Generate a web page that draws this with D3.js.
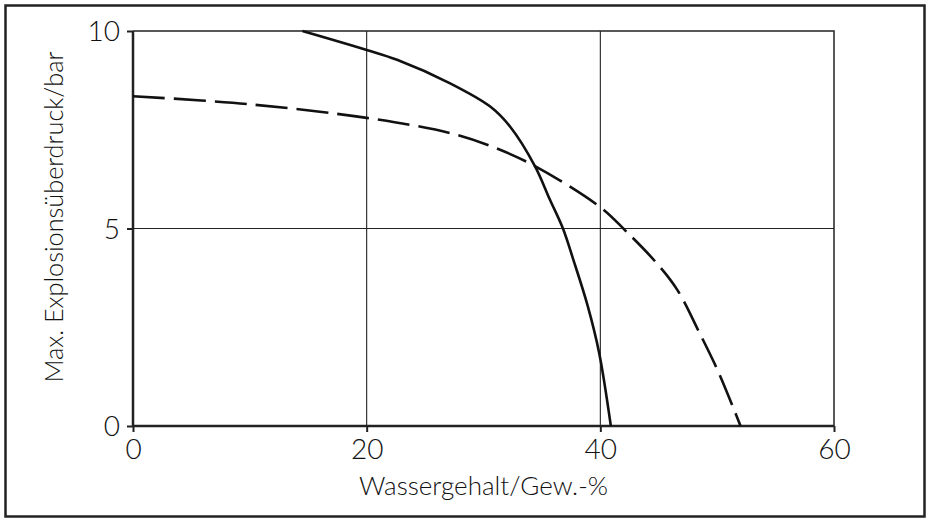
<!DOCTYPE html>
<html><head><meta charset="utf-8">
<script src="https://cdn.jsdelivr.net/npm/d3@7"></script>
<style>body{margin:0;background:#fff}svg{display:block}text{font-family:Lato,"Open Sans",sans-serif;fill:#111}</style>
</head><body>
<svg id="c" width="928" height="519"></svg>
<script>
const xTicks = [0, 20, 40, 60];
const yTicks = [0, 5, 10];
const solidX = [14.5, 20, 22.6, 27.1, 30.6, 32.3, 34.4, 35.7, 36.8, 37.7, 38.9, 39.9, 40.9];
const solidY = [10, 9.52, 9.27, 8.68, 8.08, 7.57, 6.58, 5.72, 5.0, 4.2, 3.06, 1.85, 0];
const dashX = [0, 9.8, 20, 27.1, 30.6, 34.4, 40, 42.1, 44.8, 46.6, 48.5, 50.1, 52];
const dashY = [8.35, 8.15, 7.8, 7.42, 7.09, 6.58, 5.54, 4.96, 4.13, 3.44, 2.35, 1.37, 0];
const xTitle = "Wassergehalt/Gew.-%";
const yTitle = "Max. Explosionsüberdruck/bar";

const svg = d3.select("#c");
const L = 133, R = 834, T = 31, B = 426;
const x = d3.scaleLinear().domain([0, 60]).range([L, R]);
const y = d3.scaleLinear().domain([0, 10]).range([B, T]);

svg.append("rect").attr("x", 5.5).attr("y", 5.5).attr("width", 919).attr("height", 511)
  .attr("fill", "none").attr("stroke", "#222").attr("stroke-width", 2.5);

// grid
svg.append("g").selectAll("line").data(xTicks.filter(d => d > 0 && d < 60)).join("line")
  .attr("x1", d => x(d)).attr("x2", d => x(d)).attr("y1", T).attr("y2", B)
  .attr("stroke", "#222").attr("stroke-width", 1.1);
svg.append("g").selectAll("line").data(yTicks.filter(d => d > 0 && d < 10)).join("line")
  .attr("y1", d => y(d)).attr("y2", d => y(d)).attr("x1", L).attr("x2", R)
  .attr("stroke", "#222").attr("stroke-width", 1.1);
// top & right frame
svg.append("path").attr("d", `M${L},${T}H${R}V${B}`).attr("fill", "none")
  .attr("stroke", "#222").attr("stroke-width", 1.5);

// axes
const xAxis = d3.axisBottom(x).tickValues(xTicks).tickSize(6).tickPadding(7).tickFormat(d3.format("d"));
const gx = svg.append("g").attr("transform", `translate(0,${B})`).call(xAxis);
const yAxis = d3.axisLeft(y).tickValues(yTicks).tickSize(6).tickPadding(7).tickFormat(d3.format("d"));
const gy = svg.append("g").attr("transform", `translate(${L},0)`).call(yAxis);
[gx, gy].forEach(g => {
  g.select(".domain").attr("stroke", "#222").attr("stroke-width", 2.5);
  g.selectAll(".tick line").attr("stroke", "#222").attr("stroke-width", 2);
  g.selectAll(".tick text").style("font-size", "28px").style("font-weight", 300).attr("fill", "#111");
});
gx.select(".domain").attr("d", `M${L},0H${R}`);
gy.select(".domain").attr("d", `M0,${B}V${T}`);
gy.selectAll(".tick text").attr("dy", "0.34em");

// curves
const line = d3.line().x(d => x(d[0])).y(d => y(d[1])).curve(d3.curveCatmullRom.alpha(0.5));
svg.append("path").datum(d3.zip(solidX, solidY)).attr("d", line)
  .attr("fill", "none").attr("stroke", "#111").attr("stroke-width", 2.6);
svg.append("path").datum(d3.zip(dashX, dashY)).attr("d", line)
  .attr("fill", "none").attr("stroke", "#111").attr("stroke-width", 2.6)
  .attr("stroke-dasharray", "32,9");

// titles
svg.append("text").attr("x", (L + R) / 2).attr("y", 495).attr("text-anchor", "middle")
  .attr("textLength", 249).attr("lengthAdjust", "spacingAndGlyphs")
  .style("font-size", "26px").style("font-weight", 300).text(xTitle);
svg.append("text").attr("transform", `translate(63,217) rotate(-90)`).attr("text-anchor", "middle")
  .attr("textLength", 331).attr("lengthAdjust", "spacingAndGlyphs")
  .style("font-size", "26px").style("font-weight", 300).text(yTitle);
</script>
</body></html>
